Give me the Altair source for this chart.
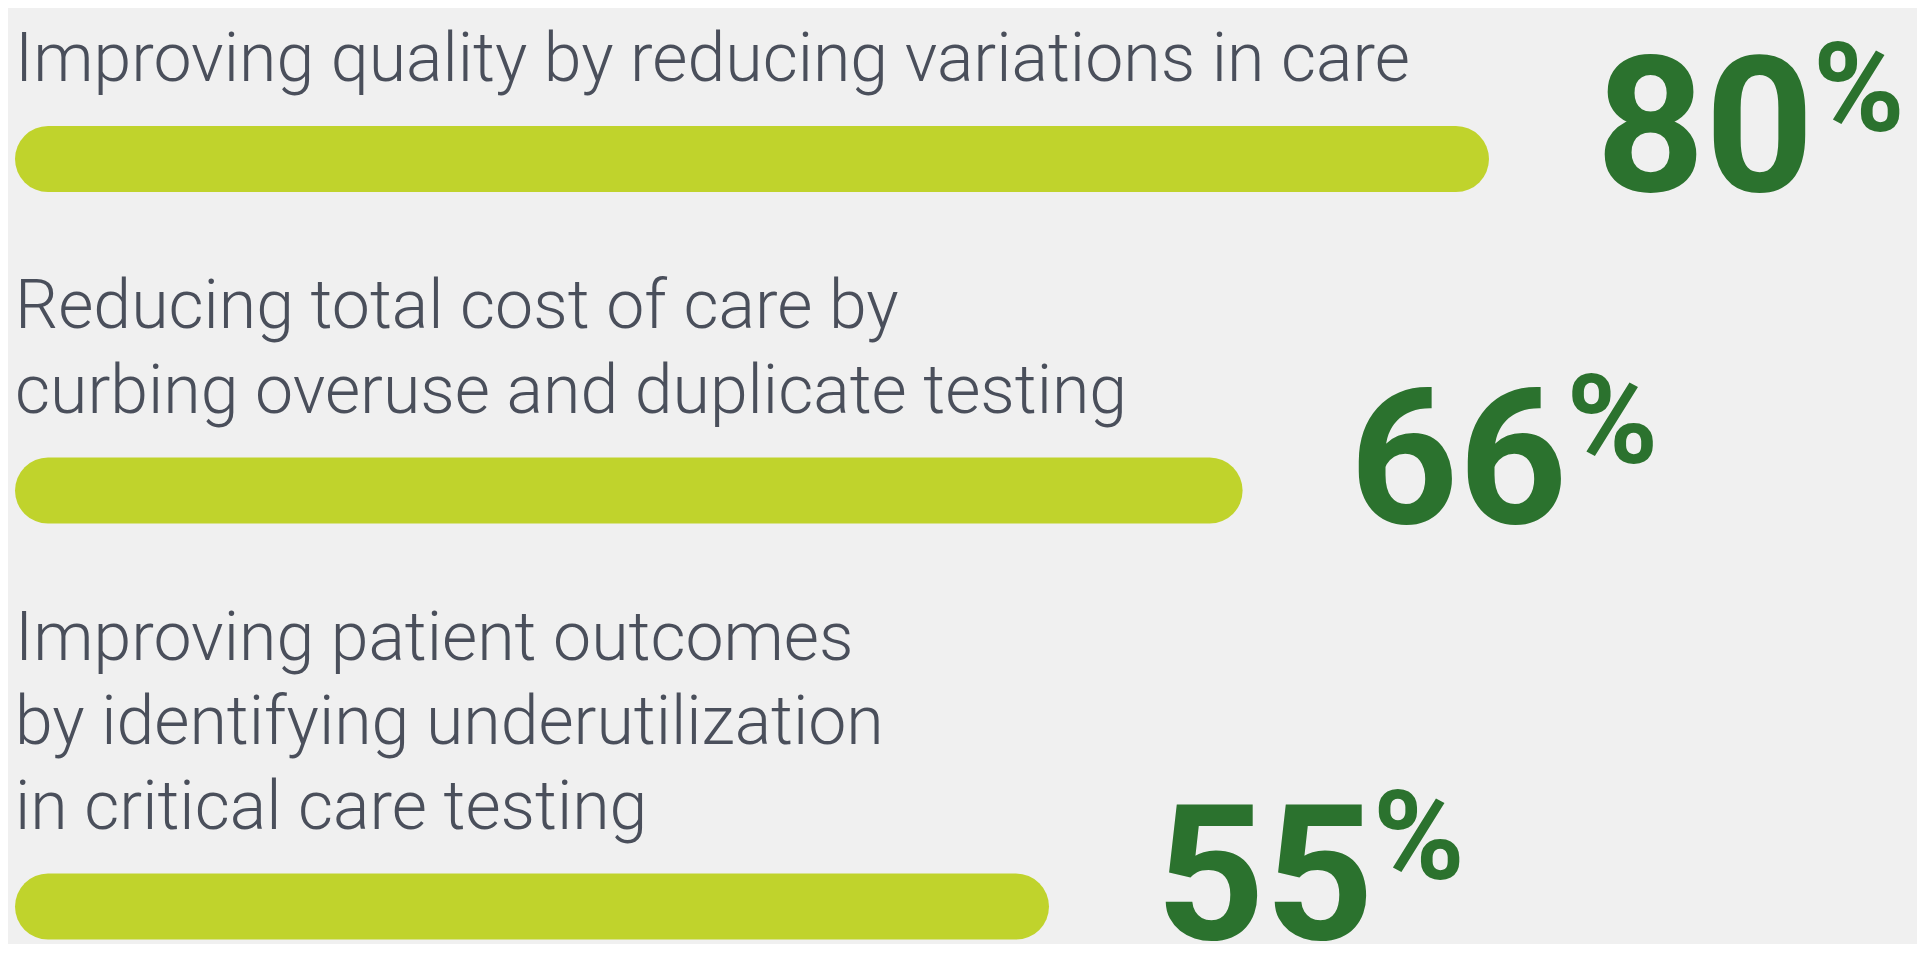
import altair as alt
import pandas as pd

# ---- data ----
labels = [
    ["Improving quality by reducing variations in care"],
    ["Reducing total cost of care by", "curbing overuse and duplicate testing"],
    ["Improving patient outcomes", "by identifying underutilization", "in critical care testing"],
]
values = [80, 66, 55]

# ---- layout in "line units" (one unit = one text line) ----
LINE_PX = 84.5
START = 0.865      # first label baseline
BAR_AFTER = 0.923  # bar centre below last label baseline
GAP = 2.0          # next label baseline below previous bar centre

bar_rows, text_rows = [], []
pos = START
for lines, v in zip(labels, values):
    for j, line in enumerate(lines):
        text_rows.append({"line": line, "pos": pos + j, "x0": 0})
    bpos = pos + len(lines) - 1 + BAR_AFTER
    bar_rows.append({"value": v, "x0": 0, "pos": bpos, "num": str(v), "pct": "%"})
    pos = bpos + GAP

bars = pd.DataFrame(bar_rows)
texts = pd.DataFrame(text_rows)

PAD_L = 40
W, H = 1909 - PAD_L, 936
PX_PER_UNIT = 17.6
xscale = alt.Scale(domain=[0, W / PX_PER_UNIT], nice=False, zero=True)
yscale = alt.Scale(domain=[0, H / LINE_PX], reverse=True, nice=False, zero=False)

X = lambda f: alt.X(f, type="quantitative", scale=xscale, axis=None)
Y = alt.Y("pos:Q", scale=yscale, axis=None)

bar_layer = alt.Chart(bars).mark_rule(
    strokeWidth=66, strokeCap="round", color="#c0d32c"
).encode(x=X("x0"), x2="value:Q", y=Y)

num_layer = alt.Chart(bars).mark_text(
    align="left", baseline="alphabetic", font="Roboto", fontWeight="bold",
    fontSize=190, color="#2b722e", dx=140, dy=32
).encode(x=X("value"), y=Y, text="num:N")

pct_layer = alt.Chart(bars).mark_text(
    align="left", baseline="alphabetic", font="Roboto", fontWeight="bold",
    fontSize=124, color="#2b722e", dx=357, dy=-28
).encode(x=X("value"), y=Y, text="pct:N")

label_layer = alt.Chart(texts).mark_text(
    align="left", baseline="alphabetic", font="Roboto", fontWeight=300,
    fontSize=68, color="#4a4f5b", dx=-33
).encode(x=X("x0"), y=Y, text="line:N")

chart = alt.layer(bar_layer, num_layer, pct_layer, label_layer).properties(
    width=W, height=H,
    padding={"left": PAD_L, "top": 0, "right": 0, "bottom": 0},
    autosize=alt.AutoSizeParams(type="none"),
    background="#f0f0f0",
).configure_view(stroke=None)

chart.save("out.html", embed_options={"renderer": "svg", "actions": False})
